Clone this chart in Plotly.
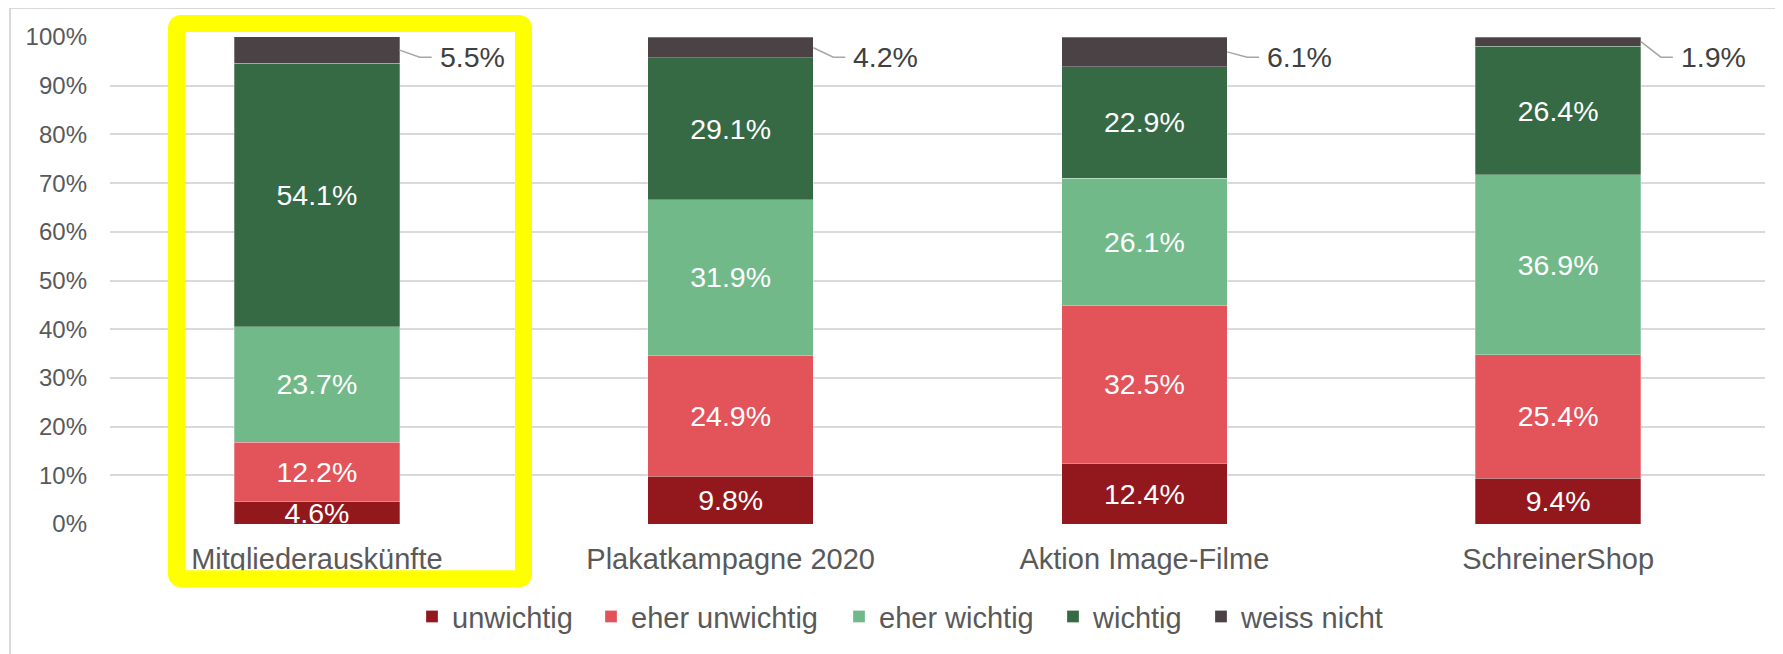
import plotly.graph_objects as go

categories = ["Mitgliederauskünfte", "Plakatkampagne 2020", "Aktion Image-Filme", "SchreinerShop"]
series_names = ["unwichtig", "eher unwichtig", "eher wichtig", "wichtig", "weiss nicht"]
unwichtig = [0.046, 0.098, 0.124, 0.094]
eher_unwichtig = [0.122, 0.249, 0.325, 0.254]
eher_wichtig = [0.237, 0.319, 0.261, 0.369]
wichtig = [0.541, 0.291, 0.229, 0.264]
weiss_nicht = [0.055, 0.042, 0.061, 0.019]
y_ticks = [i / 10 for i in range(11)]

series_values = [unwichtig, eher_unwichtig, eher_wichtig, wichtig, weiss_nicht]
colors = ["#92181D", "#E2535A", "#72B98A", "#366A45", "#4B4246"]

# page body has an 8px margin: work in screen coordinates and shift
O = 8
W, H = 1783 - O, 654 - O
PL, PR, PT, PB = 110, 1765, 37, 526          # plot area in screen px
ML, MR, MT, MB = PL - O, (W + O) - PR, PT - O, (H + O) - PB
PW, PH = PR - PL, PB - PT
FONT = "Liberation Sans, Arial, sans-serif"
BAR_W = 0.4
UNIT = PW / 4  # px per category


def px(xs):
    return (xs - PL) / PW


def py(ys):
    return (PB - ys) / PH


fig = go.Figure()
xs = list(range(len(categories)))
legend_text_x = [452, 631, 879, 1093, 1241]   # screen px where legend text starts
legend_ids = ["legend", "legend2", "legend3", "legend4", "legend5"]

for idx, (name, vals, col) in enumerate(zip(series_names, series_values, colors)):
    inside = name != "weiss nicht"
    fig.add_trace(go.Bar(
        name=name,
        x=xs,
        y=vals,
        legend=legend_ids[idx],
        marker=dict(color=col, line=dict(color="rgba(255,255,255,0.35)", width=0.8)),
        text=[f"{v*100:.1f}%" for v in vals] if inside else None,
        textposition="inside" if inside else "none",
        insidetextanchor="middle",
        textangle=0,
        constraintext="none",
        textfont=dict(family=FONT, size=28.5, color="white"),
        hoverinfo="skip",
        width=BAR_W,
    ))

# leader-line labels for "weiss nicht"
LABEL_Y = 0.9585
annotations = []
shapes = []
for i, cat in enumerate(categories):
    base = sum(s[i] for s in series_values[:-1])
    top = min(base + weiss_nicht[i], 1.0)
    mid = (base + top) / 2
    edge = i + BAR_W / 2
    bend = edge + 20 / UNIT
    end = edge + 32 / UNIT
    shapes.append(dict(type="path", xref="x", yref="y",
                       path=f"M {edge},{mid} L {bend},{LABEL_Y} L {end},{LABEL_Y}",
                       line=dict(color="#A6A6A6", width=1.5), layer="above"))
    annotations.append(dict(
        x=edge + 39 / UNIT, y=LABEL_Y, xref="x", yref="y",
        text=f"{weiss_nicht[i]*100:.1f}%", showarrow=False,
        xanchor="left", yanchor="middle", borderpad=0,
        font=dict(family=FONT, size=28.5, color="#404040"),
    ))

# yellow highlight box (rounded corners)
L, R, T, B = px(176.5), px(523.5), py(23.5), py(581)
rx, ry = 5 / PW, 5 / PH
path = (f"M {L+rx},{T} L {R-rx},{T} Q {R},{T} {R},{T-ry} L {R},{B+ry} Q {R},{B} {R-rx},{B} "
        f"L {L+rx},{B} Q {L},{B} {L},{B+ry} L {L},{T-ry} Q {L},{T} {L+rx},{T} Z")
shapes += [
    dict(type="path", xref="paper", yref="paper", path=path,
         line=dict(color="#FFFF00", width=17), layer="above"),
    dict(type="line", xref="paper", yref="paper", x0=px(10), x1=px(1800), y0=py(8), y1=py(8),
         line=dict(color="#D9D9D9", width=2)),
    dict(type="line", xref="paper", yref="paper", x0=px(10), x1=px(10), y0=py(8), y1=py(700),
         line=dict(color="#D9D9D9", width=2)),
]

legend_common = dict(orientation="h", xanchor="left", yanchor="middle", y=py(619),
                     font=dict(family=FONT, size=29, color="#595959"), itemclick=False,
                     bgcolor="rgba(0,0,0,0)", borderwidth=0, itemwidth=30)
legends = {}
for lid, tx in zip(legend_ids, legend_text_x):
    legends[lid] = dict(legend_common, x=px(tx - 40))

fig.update_layout(
    barmode="stack",
    width=W, height=H, autosize=False,
    margin=dict(l=ML, r=MR, t=MT, b=MB, pad=0),
    paper_bgcolor="white", plot_bgcolor="white",
    font=dict(family=FONT, color="#595959"),
    showlegend=True,
    annotations=annotations,
    shapes=shapes,
    xaxis=dict(type="linear", range=[-0.5, 3.5], tickmode="array", tickvals=xs, ticktext=categories,
               showgrid=False, zeroline=False, showline=False, ticks="",
               tickfont=dict(family=FONT, size=29, color="#595959"), ticklabelstandoff=15),
    yaxis=dict(range=[0, 1], tickmode="array", tickvals=y_ticks, tickformat=".0%",
               showgrid=True, gridcolor="#D9D9D9", gridwidth=2, zeroline=False, showline=False,
               ticks="", tickfont=dict(family=FONT, size=24, color="#595959"), ticklabelstandoff=22),
    **legends,
)

fig.write_html("out.html")
